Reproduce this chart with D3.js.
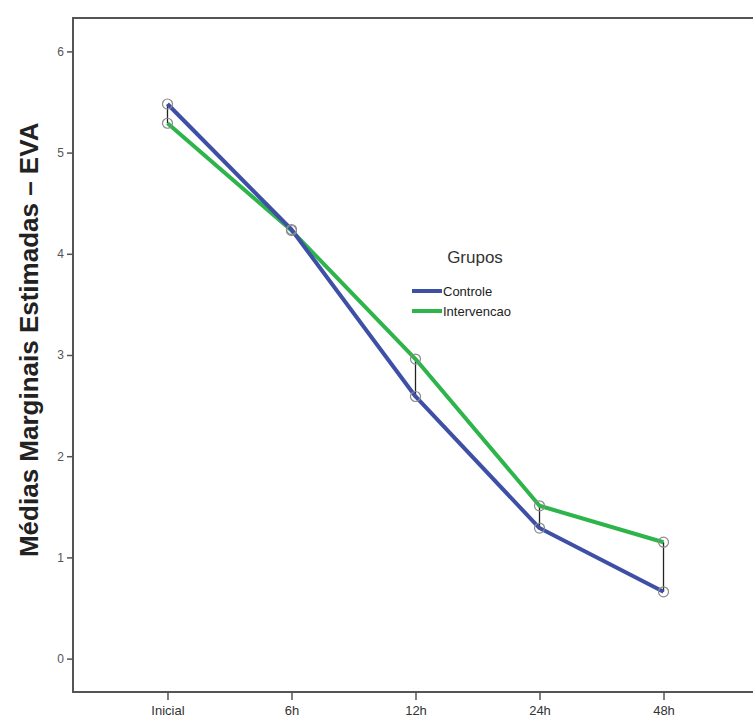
<!DOCTYPE html>
<html>
<head>
<meta charset="utf-8">
<script src="https://cdn.jsdelivr.net/npm/d3@7"></script>
<style>
  body { margin: 0; background: #fff; }
  svg { display: block; font-family: "Liberation Sans", Arial, sans-serif; }
</style>
</head>
<body>
<div id="chart"></div>
<script>
// ##### data #####
var momentos = ["Inicial", "6h", "12h", "24h", "48h"];
var grupos = ["Controle", "Intervencao"];
var controle = [5.48, 4.24, 2.59, 1.29, 0.66];
var intervencao = [5.29, 4.23, 2.96, 1.51, 1.15];
var yTicks = [0, 1, 2, 3, 4, 5, 6];
var cores = ["#3e4fa6", "#2db44a"];

var W = 753, H = 726;
var margin = {top: 18, right: -5, bottom: 34, left: 73};
var w = W - margin.left - margin.right;
var h = H - margin.top - margin.bottom;

var svg = d3.select("#chart").append("svg")
	.attr("width", W)
	.attr("height", H);

var g = svg.append("g").attr("transform", "translate(" + margin.left + "," + margin.top + ")");

var x = d3.scalePoint().domain(momentos).range([0, w]).padding(0.762);
var y = d3.scaleLinear().domain([-0.33, 6.33]).range([h, 0]);

// frame (top + left + bottom, right side runs off the picture)
g.append("path")
	.attr("d", "M" + (W) + ",0H0V" + h + "H" + W)
	.attr("fill", "none")
	.attr("stroke", "#555")
	.attr("stroke-width", 2);

// y axis
var yAxis = g.append("g")
	.call(d3.axisLeft(y).tickValues(yTicks).tickSize(6).tickPadding(3).tickFormat(d3.format("d")));
yAxis.select(".domain").remove();
yAxis.selectAll("line").attr("stroke", "#555").attr("stroke-width", 1.5);
yAxis.selectAll("text").attr("fill", "#555").style("font-size", "12px");

// x axis
var xAxis = g.append("g")
	.attr("transform", "translate(0," + h + ")")
	.call(d3.axisBottom(x).tickSize(8).tickPadding(6));
xAxis.select(".domain").remove();
xAxis.selectAll("line").attr("stroke", "#555").attr("stroke-width", 1.5);
xAxis.selectAll("text").attr("fill", "#333").style("font-size", "13px");

// y title
svg.append("text")
	.attr("transform", "translate(38," + (margin.top + y(3.15)) + ") rotate(-90)")
	.attr("text-anchor", "middle")
	.style("font-size", "26px")
	.style("font-weight", "bold")
	.attr("fill", "#222")
	.text("Médias Marginais Estimadas – EVA");

var series = [controle, intervencao];

// difference lines between groups
g.selectAll(".diff")
	.data(momentos)
	.enter().append("line")
	.attr("class", "diff")
	.attr("x1", function(d) { return x(d); })
	.attr("x2", function(d) { return x(d); })
	.attr("y1", function(d, i) { return y(controle[i]); })
	.attr("y2", function(d, i) { return y(intervencao[i]); })
	.attr("stroke", "#222")
	.attr("stroke-width", 1.3);

var line = d3.line()
	.x(function(d, i) { return x(momentos[i]); })
	.y(function(d) { return y(d); });

// draw green first, blue on top
[1, 0].forEach(function(k) {
	g.append("path")
		.datum(series[k])
		.attr("d", line)
		.attr("fill", "none")
		.attr("stroke", cores[k])
		.attr("stroke-width", 4)
		.attr("stroke-linejoin", "round");
});

series.forEach(function(s) {
	g.selectAll(null)
		.data(s)
		.enter().append("circle")
		.attr("cx", function(d, i) { return x(momentos[i]); })
		.attr("cy", function(d) { return y(d); })
		.attr("r", 5)
		.attr("fill", "none")
		.attr("stroke", "#8a8a8a")
		.attr("stroke-width", 1.2);
});

// legend
var lg = svg.append("g").attr("transform", "translate(412,257)");
lg.append("text")
	.attr("x", 63)
	.attr("y", 6)
	.attr("text-anchor", "middle")
	.style("font-size", "17px")
	.attr("fill", "#333")
	.text("Grupos");
grupos.forEach(function(n, i) {
	var yy = 34 + i * 20;
	lg.append("line")
		.attr("x1", 0).attr("x2", 30)
		.attr("y1", yy).attr("y2", yy)
		.attr("stroke", cores[i])
		.attr("stroke-width", 4);
	lg.append("text")
		.attr("x", 31)
		.attr("y", yy + 5)
		.style("font-size", "13px")
		.attr("fill", "#222")
		.text(n);
});
</script>
</body>
</html>
